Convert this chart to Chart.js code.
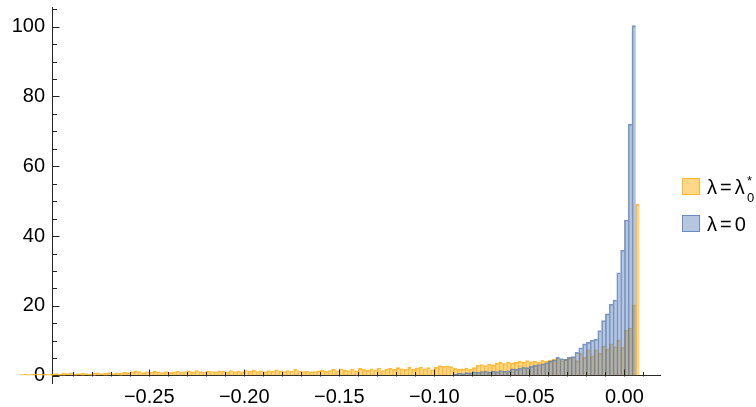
<!DOCTYPE html>
<html>
<head>
<meta charset="utf-8">
<script src="https://cdn.jsdelivr.net/npm/chart.js@4.4.1/dist/chart.umd.min.js"></script>
<style>
  html, body { margin: 0; padding: 0; background: #fff; }
  #contenedor { position: relative; width: 756px; height: 407px; }
  #leyenda { position: absolute; left: 0; top: 0; width: 756px; height: 407px; pointer-events: none;
             font-family: "Liberation Sans", Arial, sans-serif; font-size: 20px; color: #000; }
  .muestra { position: absolute; left: 682px; width: 18px; height: 17px; box-sizing: border-box; border: 1px solid; }
  .texto { position: absolute; left: 707px; line-height: 20px; white-space: nowrap; }
  .igual { margin: 0 3px; }
  .chico { position: absolute; font-size: 13px; line-height: 13px; }
</style>
</head>
<body>
<div id="contenedor">
  <canvas id="grafico"></canvas>
  <div id="leyenda"></div>
</div>
<script>
// Datos del histograma (ancho de clase 0.002)

const anchoBin = 0.002
const inicioNaranja = -0.318
const inicioAzul = -0.090

// lambda = lambda0* (naranjo), desde -0.318 hasta 0.008
const alturasNaranja = [
    0.3, 0.4, 0.3, 0.5, 0.4, 0.4, 0.5, 0.3, 0.5, 0.6,
    0.5, 0.7, 0.6, 0.8, 0.5, 0.6, 0.7, 0.6, 0.5, 0.7,
    0.8, 0.6, 0.7, 0.9, 0.6, 0.8, 0.7, 1.0, 0.9, 1.1,
    1.4, 1.2, 0.9, 1.1, 1.0, 1.3, 1.1, 0.9, 1.2, 1.0,
    1.1, 1.3, 1.0, 1.2, 1.4, 1.1, 1.5, 1.2, 1.0, 1.3,
    1.2, 1.1, 1.4, 1.3, 1.0, 1.5, 1.2, 1.3, 1.1, 1.5,
    1.3, 1.6, 1.2, 1.4, 1.1, 1.5, 1.3, 1.7, 1.4, 1.2,
    1.5, 1.3, 1.8, 1.4, 1.2, 1.3, 1.1, 1.2, 1.4, 1.6,
    1.3, 1.5, 1.8, 1.4, 2.0, 1.6, 1.5, 1.9, 1.4, 2.1,
    1.8, 1.6, 2.0, 1.7, 2.2, 1.5, 1.9, 2.1, 1.8, 2.3,
    2.0, 1.9, 2.4, 1.8, 2.2, 2.5, 2.0, 2.3, 1.7, 2.4,
    2.9, 2.7, 2.8, 2.6, 2.1, 1.9, 2.0, 2.2, 1.9, 2.3,
    3.0, 3.2, 2.9, 3.3, 3.1, 3.6, 3.8, 3.5, 3.9, 3.7,
    3.9, 4.1, 3.8, 4.3, 4.0, 4.2, 3.9, 4.4, 4.1, 4.5,
    4.7, 5.0, 4.3, 4.7, 5.0, 5.3, 4.3, 6.4, 5.3, 7.4,
    5.7, 7.4, 6.4, 8.5, 7.6, 9.1, 8.3, 10.2, 8.1, 13.1,
    13.6, 20.3, 49.1
]

// lambda = 0 (azul), desde -0.090 hasta 0.006
const alturasAzul = [
    0.5, 0.7, 0.6, 0.9, 0.8, 1.1, 1.0, 1.2, 1.3, 1.1,
    1.3, 1.2, 1.5, 1.3, 1.4, 2.0, 1.9, 2.1, 2.4, 2.3,
    2.7, 3.0, 3.2, 3.4, 3.7, 4.2,
    4.5, 5.3, 4.9, 4.7, 5.3, 5.5, 6.7, 8.0, 9.1, 9.6,
    10.2, 10.5, 12.9, 15.8, 17.7, 20.5, 21.7, 29.5, 36.0, 44.6,
    72.1, 100.3
]

// Marcas con etiqueta
const marcasX = [-0.25, -0.20, -0.15, -0.10, -0.05, 0.00]
const etiquetasX = ['\u22120.25', '\u22120.20', '\u22120.15', '\u22120.10', '\u22120.05', '0.00']
const marcasY = [0, 20, 40, 60, 80, 100]
const etiquetasY = ['0', '20', '40', '60', '80', '100']

const colorEje = '#262626'
const fuente = { family: '"Liberation Sans", Arial, sans-serif', size: 20 }


// pasa alturas a puntos {x, y} en el centro de cada clase
function aPuntos(inicio, alturas) {
    return alturas.map((alto, i) => ({
        x: Math.round((inicio + anchoBin * (i + 0.5)) * 1e6) / 1e6,
        y: alto
    }))
}

function indiceMarca(valor, marcas) {
    return marcas.findIndex((m) => Math.abs(m - valor) < 1e-6)
}


// Marcas de los ejes hacia adentro, como en Mathematica
const pluginMarcas = {
    id: 'marcas',
    afterDraw(chart) {
        const ctx = chart.ctx
        const ejeX = chart.scales.x
        const ejeY = chart.scales.y
        const y0 = Math.round(ejeY.getPixelForValue(0)) + 0.5
        const x0 = Math.round(ejeX.left) + 0.5

        ctx.save()
        ctx.strokeStyle = colorEje
        ctx.lineWidth = 1
        ctx.beginPath()
        ejeX.ticks.forEach((t) => {
            const px = Math.round(ejeX.getPixelForValue(t.value)) + 0.5
            const largo = indiceMarca(t.value, marcasX) >= 0 ? 7 : 4.5
            ctx.moveTo(px, y0)
            ctx.lineTo(px, y0 - largo)
        })
        ejeY.ticks.forEach((t) => {
            const py = Math.round(ejeY.getPixelForValue(t.value)) + 0.5
            const largo = indiceMarca(t.value, marcasY) >= 0 ? 7 : 4.5
            ctx.moveTo(x0, py)
            ctx.lineTo(x0 + largo, py)
        })
        ctx.stroke()
        ctx.restore()
    }
}


const config = {
    type: 'bar',
    data: {
        datasets: [
            {
                label: 'λ=0',
                data: aPuntos(inicioAzul, alturasAzul),
                backgroundColor: 'rgba(94, 129, 181, 0.45)',
                borderColor: 'rgba(86, 120, 180, 0.75)',
                borderWidth: { left: 1, top: 1, right: 0, bottom: 0 },
                order: 0
            },
            {
                label: 'λ=λ0*',
                data: aPuntos(inicioNaranja, alturasNaranja),
                backgroundColor: 'rgba(255, 183, 40, 0.55)',
                borderColor: 'rgba(255, 176, 30, 0.85)',
                borderWidth: { left: 1, top: 1, right: 0, bottom: 0 },
                order: 1,
                clip: false
            }
        ]
    },
    options: {
        responsive: true,
        maintainAspectRatio: false,
        animation: false,
        layout: { padding: { left: 0, right: 96, top: 7, bottom: 24 } },
        datasets: {
            bar: { grouped: false, barPercentage: 1, categoryPercentage: 1 }
        },
        plugins: {
            legend: { display: false },
            tooltip: { enabled: false }
        },
        scales: {
            x: {
                type: 'linear',
                position: { y: 0 },
                min: -0.29598,
                max: 0.01359,
                z: 1,
                grid: { drawOnChartArea: false, drawTicks: false },
                border: { color: colorEje, width: 1 },
                ticks: {
                    stepSize: 0.01,
                    includeBounds: false,
                    autoSkip: false,
                    maxRotation: 0,
                    minRotation: 0,
                    padding: 10,
                    color: '#000',
                    font: fuente,
                    callback: (valor) => {
                        const i = indiceMarca(valor, marcasX)
                        return i >= 0 ? etiquetasX[i] : ''
                    }
                },
                afterFit: (eje) => {
                    eje.paddingLeft = 0
                    eje.paddingRight = 0
                }
            },
            y: {
                position: 'left',
                min: -2.09,
                max: 105.64,
                z: 1,
                grid: { drawOnChartArea: false, drawTicks: false },
                border: { color: colorEje, width: 1 },
                ticks: {
                    stepSize: 5,
                    includeBounds: false,
                    autoSkip: false,
                    padding: 7,
                    color: '#000',
                    font: fuente,
                    callback: (valor) => {
                        const i = indiceMarca(valor, marcasY)
                        return i >= 0 ? etiquetasY[i] : ''
                    }
                },
                afterFit: (eje) => {
                    eje.width = 52
                    eje.paddingTop = 0
                    eje.paddingBottom = 0
                }
            }
        }
    },
    plugins: [pluginMarcas]
}

const ctx = document.getElementById('grafico').getContext('2d')
const myChart = new Chart(ctx, config)


// Leyenda en HTML (para el subindice y el superindice)
const leyenda = document.getElementById('leyenda')
const filasLeyenda = [
    { dataset: 1, top: 178, html: 'λ<span class="igual">=</span>λ' },
    { dataset: 0, top: 215, html: 'λ<span class="igual">=</span>0' }
]

filasLeyenda.forEach((fila) => {
    const ds = config.data.datasets[fila.dataset]
    const muestra = document.createElement('div')
    muestra.className = 'muestra'
    muestra.style.top = fila.top + 'px'
    muestra.style.background = ds.backgroundColor
    muestra.style.borderColor = ds.borderColor
    leyenda.appendChild(muestra)

    const texto = document.createElement('div')
    texto.className = 'texto'
    texto.style.top = (fila.top - 1) + 'px'
    texto.innerHTML = fila.html
    leyenda.appendChild(texto)
})

const sub = document.createElement('span')
sub.className = 'chico'
sub.style.left = '747px'
sub.style.top = '191px'
sub.textContent = '0'
leyenda.appendChild(sub)

const sup = document.createElement('span')
sup.className = 'chico'
sup.style.left = '747px'
sup.style.top = '174px'
sup.textContent = '*'
leyenda.appendChild(sup)
</script>
</body>
</html>
